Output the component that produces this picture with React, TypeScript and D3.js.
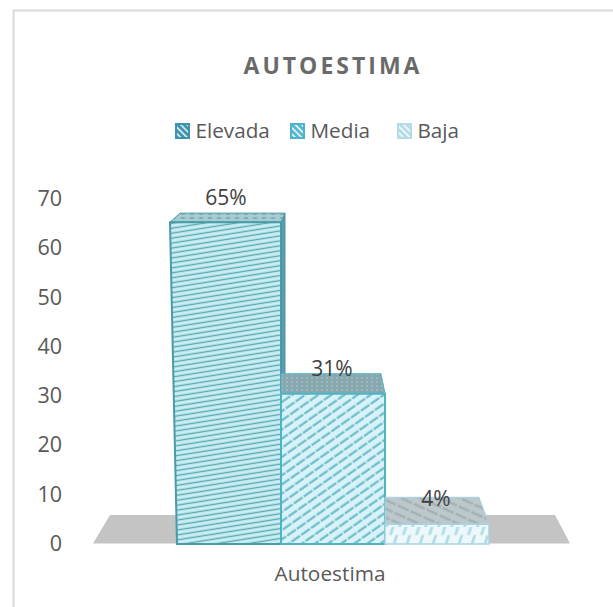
import React from "react";
import * as d3 from "d3";

const categories = ["Elevada", "Media", "Baja"];
const values = [65.3, 30.5, 4];
const dataLabels = ["65%", "31%", "4%"];
const yTicks = [0, 10, 20, 30, 40, 50, 60, 70];
const title = "AUTOESTIMA";
const axisLabel = "Autoestima";

const FONT = "'Open Sans', sans-serif";
const TEXT = "#595959";

const y = d3.scaleLinear().domain([0, 70]).range([544, 199]);
const x = d3.scaleBand<string>().domain(categories).range([177, 489]).paddingInner(0).paddingOuter(0);
const line = d3.line<[number, number]>();
const poly = (pts: [number, number][]) => line(pts) + "Z";

const strokes = ["#4a9aa8", "#4fb3c6", "#a5d5e2"];
const frontPat = ["pE", "pM", "pB"];
const depths = [{ dx: 4, dy: 9 }, { dx: -4, dy: 20 }, { dx: -10, dy: 27 }];
const labelY = [205, 376, 506];
const labelX = [226, 332, 436];
const legendX = [176, 291, 398];
const legendFill = ["lE", "lM", "lB"];
const legendStroke = ["#3f93ad", "#4fb3cc", "#b5dbe6"];

export default function App() {
  return (
    <svg width={613} height={607} style={{ position: "absolute", left: 0, top: 0, background: "#fff" }}>
      <defs>
        <pattern id="pE" width="22" height="4.9" patternUnits="userSpaceOnUse" patternTransform="rotate(-9)">
          <rect width="22" height="4.9" fill="#c9eef3" />
          <line x1="0" y1="2.4" x2="22" y2="2.4" stroke="#5aa8b2" strokeWidth="1.4" />
        </pattern>
        <pattern id="pM" width="12" height="7.5" patternUnits="userSpaceOnUse" patternTransform="rotate(-35)">
          <rect width="12" height="7.5" fill="#d8f2f7" />
          <line x1="0" y1="3.5" x2="12" y2="3.5" stroke="#6cbccb" strokeWidth="2.2" strokeDasharray="10.5 1.5" />
        </pattern>
        <pattern id="pB" width="13" height="17" patternUnits="userSpaceOnUse" patternTransform="translate(0 527) skewX(-18)">
          <rect width="13" height="17" fill="#edf8fb" />
          <line x1="3" y1="0" x2="3" y2="8" stroke="#b4dce7" strokeWidth="3" />
          <line x1="9.5" y1="8" x2="9.5" y2="17" stroke="#b4dce7" strokeWidth="3" />
        </pattern>
        <pattern id="tE" width="9" height="4" patternUnits="userSpaceOnUse">
          <rect width="9" height="4" fill="#a6ccd2" />
          <ellipse cx="3" cy="2" rx="2.6" ry="0.9" fill="#7aacb5" />
        </pattern>
        <pattern id="tM" width="5" height="4" patternUnits="userSpaceOnUse">
          <rect width="5" height="4" fill="#85a9b0" />
          <circle cx="2" cy="2" r="1.1" fill="#a9b8bb" />
        </pattern>
        <pattern id="tB" width="14" height="8" patternUnits="userSpaceOnUse" patternTransform="rotate(24)">
          <rect width="14" height="8" fill="#bcc8cb" />
          <line x1="0" y1="4" x2="14" y2="4" stroke="#a3b1b5" strokeWidth="2.4" strokeDasharray="7 2" />
        </pattern>
        <pattern id="lE" width="4.5" height="4.5" patternUnits="userSpaceOnUse" patternTransform="rotate(45)">
          <rect width="4.5" height="4.5" fill="#3f93ad" />
          <rect width="4.5" height="1.8" fill="#cfe7ee" />
        </pattern>
        <pattern id="lM" width="4.5" height="4.5" patternUnits="userSpaceOnUse" patternTransform="rotate(45)">
          <rect width="4.5" height="4.5" fill="#55b6cf" />
          <rect width="4.5" height="1.8" fill="#dff3f8" />
        </pattern>
        <pattern id="lB" width="4.5" height="4.5" patternUnits="userSpaceOnUse" patternTransform="rotate(45)">
          <rect width="4.5" height="4.5" fill="#b5dbe6" />
          <rect width="4.5" height="1.8" fill="#eef8fb" />
        </pattern>
      </defs>

      <path d="M13.5 607V10.5H613" fill="none" stroke="#d9d9d9" strokeWidth={2} />

      <text x={333} y={74} textAnchor="middle" fontFamily={FONT} fontSize={23} fontWeight={700} letterSpacing={3} fill="#6a6a6a">{title}</text>

      {categories.map((c, i) => (
        <g key={c}>
          <rect x={legendX[i]} y={124} width={13} height={14} fill={`url(#${legendFill[i]})`} stroke={legendStroke[i]} strokeWidth={2} />
          <text x={legendX[i] + 19.5} y={138} fontFamily={FONT} fontSize={20.7} fill={TEXT}>{c}</text>
        </g>
      ))}

      {yTicks.map((t) => (
        <text key={t} x={62} y={y(t) + 7} textAnchor="end" fontFamily={FONT} fontSize={21.5} fill={TEXT}>{t}</text>
      ))}

      <path d={poly([[110, 515], [555, 515], [570, 543.5], [93, 543.5]])} fill="#c4c4c4" />

      {categories.map((c, i) => {
        const x0 = x(c)!;
        const x1 = x0 + x.bandwidth();
        const top = y(values[i]);
        const base = y(0);
        const lean = i === 0 ? -7 : 0;
        const d = depths[i];
        const backL = i === 0 ? x0 + 3 : x0;
        const backR = x1 + d.dx;
        return (
          <g key={c}>
            {i === 0 && (
              <path d={poly([[x1, top], [backR, top - d.dy], [backR, base - 10], [x1, base]])} fill="#5b9dac" stroke="#4a93a3" />
            )}
            <path
              d={poly([[x0 + lean, top], [backL, top - d.dy], [backR, top - d.dy], [x1, top]])}
              fill={`url(#${["tE", "tM", "tB"][i]})`}
              stroke={strokes[i]}
              strokeWidth={1}
            />
            <path
              d={poly([[x0 + lean, top], [x1, top], [x1, base], [x0, base]])}
              fill={`url(#${frontPat[i]})`}
              stroke={strokes[i]}
              strokeWidth={i === 2 ? 1.5 : 2}
            />
            <text x={labelX[i]} y={labelY[i]} textAnchor="middle" fontFamily={FONT} fontSize={21} fill="#404040">{dataLabels[i]}</text>
          </g>
        );
      })}

      <text x={330} y={581} textAnchor="middle" fontFamily={FONT} fontSize={20.8} fill={TEXT}>{axisLabel}</text>
    </svg>
  );
}
